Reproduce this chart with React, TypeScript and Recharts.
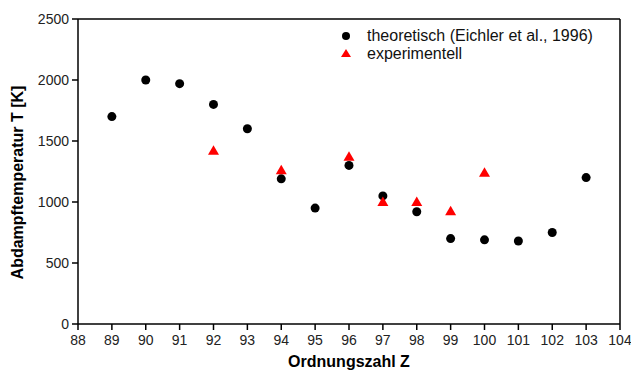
import {ScatterChart, Scatter, XAxis, YAxis, ReferenceLine} from 'recharts';

const theoZ = [89, 90, 91, 92, 93, 94, 95, 96, 97, 98, 99, 100, 101, 102, 103];
const theoT = [1700, 2000, 1970, 1800, 1600, 1190, 950, 1300, 1050, 920, 700, 690, 680, 750, 1200];
const expZ = [92, 94, 96, 97, 98, 99, 100];
const expT = [1420, 1260, 1370, 1000, 1000, 925, 1240];
const xTicks = [88, 89, 90, 91, 92, 93, 94, 95, 96, 97, 98, 99, 100, 101, 102, 103, 104];
const yTicks = [0, 500, 1000, 1500, 2000, 2500];
const seriesNames = ['theoretisch (Eichler et al., 1996)', 'experimentell'];

const theoData = theoZ.map((z, i) => ({z, t: theoT[i]}));
const expData = expZ.map((z, i) => ({z, t: expT[i]}));

const FONT = '"Liberation Sans", Arial, sans-serif';

const Dot = (props: any) => <circle cx={props.cx} cy={props.cy} r={4.5} fill="#000" />;
const Tri = (props: any) => {
  const {cx, cy} = props;
  return <polygon points={`${cx},${cy - 5.5} ${cx + 5.5},${cy + 4} ${cx - 5.5},${cy + 4}`} fill="#ff0000" />;
};

const YLabel = (props: any) => {
  const {viewBox} = props;
  const cy = viewBox.y + viewBox.height / 2 + 11;
  return (
    <text
      x={23}
      y={cy}
      transform={`rotate(-90, 23, ${cy})`}
      textAnchor="middle"
      fill="#000"
      fontSize={16}
      fontWeight="bold"
      fontFamily={FONT}
    >
      Abdampftemperatur T [K]
    </text>
  );
};

// legend drawn as an overlay so it doesn't eat into the plot area
function ChartLegend() {
  return (
    <div style={{position: 'absolute', left: 341, top: 27, fontFamily: FONT, fontSize: 16, color: '#111', lineHeight: '18px'}}>
      <div style={{display: 'flex', alignItems: 'center'}}>
        <svg width={26} height={18}>
          <circle cx={5} cy={9} r={4} fill="#000" />
        </svg>
        <span>{seriesNames[0]}</span>
      </div>
      <div style={{display: 'flex', alignItems: 'center'}}>
        <svg width={26} height={18}>
          <polygon points="5,4 10,12 0,12" fill="#ff0000" />
        </svg>
        <span>{seriesNames[1]}</span>
      </div>
    </div>
  );
}

export default function App() {
  return (
    <div style={{position: 'absolute', left: 0, top: 0, width: 631, height: 373, background: '#fff'}}>
      <ScatterChart width={631} height={373} margin={{top: 19, right: 11, bottom: 19, left: 0}}>
        <XAxis
          type="number"
          dataKey="z"
          domain={[88, 104]}
          ticks={xTicks}
          interval={0}
          allowDataOverflow
          stroke="#000"
          strokeWidth={1.5}
          tickSize={6}
          tickMargin={5}
          tick={{fill: '#222', fontSize: 14, fontFamily: FONT}}
          label={{value: 'Ordnungszahl Z', position: 'insideBottom', offset: -13, fill: '#000', fontSize: 16, fontWeight: 'bold', fontFamily: FONT}}
        />
        <YAxis
          type="number"
          dataKey="t"
          domain={[0, 2500]}
          ticks={yTicks}
          interval={0}
          width={78}
          stroke="#000"
          strokeWidth={1.5}
          tickSize={6}
          tickMargin={3}
          tick={{fill: '#222', fontSize: 14, fontFamily: FONT}}
          label={<YLabel />}
        />
        <ReferenceLine y={2500} stroke="#000" strokeWidth={1.5} />
        <ReferenceLine x={104} stroke="#000" strokeWidth={1.5} />
        <Scatter name={seriesNames[0]} data={theoData} shape={Dot} isAnimationActive={false} />
        <Scatter name={seriesNames[1]} data={expData} shape={Tri} isAnimationActive={false} />
      </ScatterChart>
      <ChartLegend />
    </div>
  );
}
